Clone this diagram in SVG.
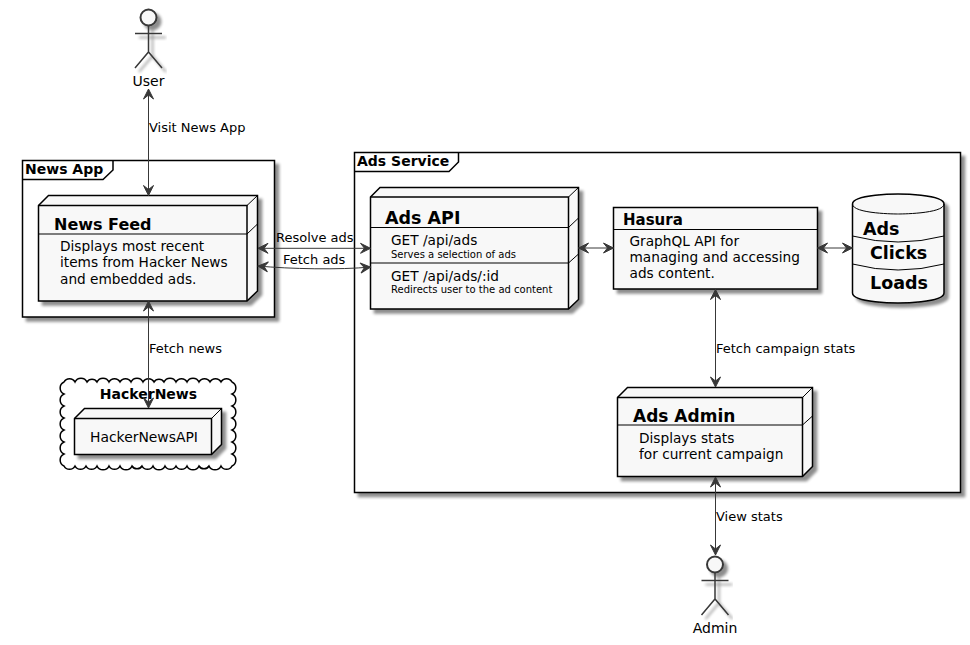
<svg xmlns="http://www.w3.org/2000/svg" width="970" height="645" viewBox="0 0 970 645">
<style>
text{font-family:"DejaVu Sans",sans-serif;fill:#000}
.s{filter:url(#sh)}
.b{fill:#f8f8f8;stroke:#000;stroke-width:1.5}
.f{fill:#fff;stroke:#000;stroke-width:1.5}
.n{fill:none;stroke:#000;stroke-width:1}
.e{fill:none;stroke:#000;stroke-width:1.5}
.a{fill:#f8f8f8;stroke:#383838;stroke-width:2}
.al{fill:none;stroke:#383838;stroke-width:1.5}
.c{fill:none;stroke:#383838;stroke-width:1;marker-start:url(#ah);marker-end:url(#ah)}
.t{font-size:13.7px}.l{font-size:13px}.sm{font-size:10px}
.h{font-weight:bold;font-size:16px}.h14{font-weight:bold;font-size:14px}.h18{font-weight:bold;font-size:17.5px}
</style>
<defs>
<filter id="sh" x="-10%" y="-10%" width="125%" height="125%"><feGaussianBlur in="SourceAlpha" stdDeviation="1.6"/><feOffset dx="4" dy="4"/><feComponentTransfer><feFuncA type="linear" slope="0.45"/></feComponentTransfer><feMerge><feMergeNode/><feMergeNode in="SourceGraphic"/></feMerge></filter>
<marker id="ah" markerUnits="userSpaceOnUse" markerWidth="14" markerHeight="14" refX="11" refY="6" orient="auto-start-reverse" viewBox="0 0 14 12"><path d="M1,1 L11,6 L1,11 L5,6 Z" fill="#383838" stroke="#383838"/></marker>
</defs>
<g id="frame-news-app"><path class="f s" d="M22.5,160.5H274.5V317H22.5Z"/><path class="e" d="M22.5,179.5H103L113,170V160.5"/><text x="25" y="174" class="h14">News App</text></g>
<g id="frame-ads-service"><path class="f s" d="M354.5,152.5H960.5V492.5H354.5Z"/><path class="e" d="M354.5,171.5H449L458.5,162V152.5"/><text x="357" y="166" class="h14">Ads Service</text></g>
<g id="user"><g class="s"><circle class="a" cx="148.5" cy="17.5" r="8"/><path class="al" d="M148.5,25.5V52M135,33.5H162M135,68L148.5,52L162,68"/></g><text x="148.5" y="86" text-anchor="middle" style="font-size:14px">User</text></g>
<g id="news-feed"><path class="b s" d="M38.5,205.5L48.5,195.5H257.5V291L247,301H38.5Z"/><path class="n" d="M247,205.5L257.5,195.5M247,234L257.5,224"/><path class="e" d="M38.5,205.5H247V301"/><path class="n" d="M38.5,234H247"/><text x="54" y="230" class="h">News Feed</text><text x="60" y="251" class="t">Displays most recent</text><text x="60" y="267" class="t">items from Hacker News</text><text x="60" y="284" class="t">and embedded ads.</text></g>
<g id="hackernews"><path class="f" d="M64,382a6.2,6.2 0 0 1 11,0a6.6,6.6 0 0 1 12,0a5.8,5.8 0 0 1 10,0a6.6,6.6 0 0 1 12,0a6.2,6.2 0 0 1 11,0a6.2,6.2 0 0 1 11,0a6.6,6.6 0 0 1 12,0a6.2,6.2 0 0 1 11,0a5.8,5.8 0 0 1 10,0a6.6,6.6 0 0 1 12,0a6.2,6.2 0 0 1 11,0a6.6,6.6 0 0 1 12,0a6.2,6.2 0 0 1 11,0a6.2,6.2 0 0 1 11,0a6.2,6.2 0 0 1 11,0a6.6,6.6 0 0 1 0,12a6.6,6.6 0 0 1 0,12a6.6,6.6 0 0 1 0,12a6.6,6.6 0 0 1 0,12a6.6,6.6 0 0 1 0,12a6.6,6.6 0 0 1 0,12a6.6,6.6 0 0 1 0,12a6.2,6.2 0 0 1 -11,0a6.6,6.6 0 0 1 -12,0a5.8,5.8 0 0 1 -10,0a6.6,6.6 0 0 1 -12,0a6.2,6.2 0 0 1 -11,0a6.2,6.2 0 0 1 -11,0a6.6,6.6 0 0 1 -12,0a6.2,6.2 0 0 1 -11,0a5.8,5.8 0 0 1 -10,0a6.6,6.6 0 0 1 -12,0a6.2,6.2 0 0 1 -11,0a6.6,6.6 0 0 1 -12,0a6.2,6.2 0 0 1 -11,0a6.2,6.2 0 0 1 -11,0a6.2,6.2 0 0 1 -11,0a6.6,6.6 0 0 1 0,-12a6.6,6.6 0 0 1 0,-12a6.6,6.6 0 0 1 0,-12a6.6,6.6 0 0 1 0,-12a6.6,6.6 0 0 1 0,-12a6.6,6.6 0 0 1 0,-12a6.6,6.6 0 0 1 0,-12Z"/><text x="148.5" y="399" text-anchor="middle" class="h14">HackerNews</text></g>
<g id="hackernews-api"><path class="b s" d="M74.5,418.5L84.5,408.5H221.5V444.5L211.5,454.5H74.5Z"/><path class="n" d="M211.5,418.5L221.5,408.5"/><path class="e" d="M74.5,418.5H211.5V454.5"/><text x="90" y="442" style="font-size:13.9px">HackerNewsAPI</text></g>
<g id="ads-api"><path class="b s" d="M370.5,197L380,187.5H578.5V299.5L568.5,309H370.5Z"/><path class="n" d="M568.5,197L578.5,187.5M568.5,227.5L578.5,218M568.5,263L578.5,254"/><path class="e" d="M370.5,197H568.5V309"/><path class="n" d="M370.5,227.5H568.5M370.5,263H568.5"/><text x="385" y="224" class="h18">Ads API</text><text x="391" y="245" class="t">GET /api/ads</text><text x="391" y="258" class="sm">Serves a selection of ads</text><text x="391" y="281" class="t">GET /api/ads/:id</text><text x="391" y="293" class="sm">Redirects user to the ad content</text></g>
<g id="hasura"><rect class="b s" x="613.5" y="207.5" width="204" height="81.5"/><path class="n" d="M613.5,229.5H817.5"/><text x="623" y="225" style="font-weight:bold;font-size:15px">Hasura</text><text x="629.5" y="246" class="t">GraphQL API for</text><text x="629.5" y="262" class="t">managing and accessing</text><text x="629.5" y="278" class="t">ads content.</text></g>
<g id="ads-db"><path class="b s" d="M852.5,204C852.5,194 898,194 898,194C898,194 944,194 944,204V293C944,303 898,303 898,303C898,303 852.5,303 852.5,293Z"/><path class="n" d="M852.5,204C852.5,214 898,214 898,214C898,214 944,214 944,204M852.5,236Q898,248 944,236M852.5,264Q898,276 944,264"/><text x="863" y="234.5" class="h18">Ads</text><text x="870" y="259" class="h18">Clicks</text><text x="870" y="288.5" class="h18">Loads</text></g>
<g id="ads-admin"><path class="b s" d="M617.5,397.5L627.5,387.5H812.5V466.5L802.5,476.5H617.5Z"/><path class="n" d="M802.5,397.5L812.5,387.5M802.5,425L812.5,416"/><path class="e" d="M617.5,397.5H802.5V476.5"/><path class="n" d="M617.5,425H802.5"/><text x="633" y="422" style="font-weight:bold;font-size:17px">Ads Admin</text><text x="639" y="443" class="t">Displays stats</text><text x="639" y="459" class="t">for current campaign</text></g>
<g id="admin"><g class="s"><circle class="a" cx="715" cy="564.5" r="8"/><path class="al" d="M715,572.5V599M701.5,580.5H728.5M701.5,615L715,599L728.5,615"/></g><text x="715" y="633" text-anchor="middle" style="font-size:14px">Admin</text></g>
<g id="connectors">
<path class="c" d="M148.5,89V195.5"/>
<path class="c" d="M148.5,301V408"/>
<path class="c" d="M258,248.3H370.5"/>
<path class="c" d="M258,266C290,269 340,270 370.5,267"/>
<path class="c" d="M578.5,248H613.5"/>
<path class="c" d="M817.5,248H852.5"/>
<path class="c" d="M715.5,289.5V387"/>
<path class="c" d="M715.5,477V555"/>
<text x="149" y="132" class="l">Visit News App</text>
<text x="149" y="353" class="l">Fetch news</text>
<text x="276" y="242" class="l">Resolve ads</text>
<text x="283" y="264" class="l">Fetch ads</text>
<text x="716" y="353" class="l">Fetch campaign stats</text>
<text x="716" y="521" class="l">View stats</text>
</g>
</svg>
